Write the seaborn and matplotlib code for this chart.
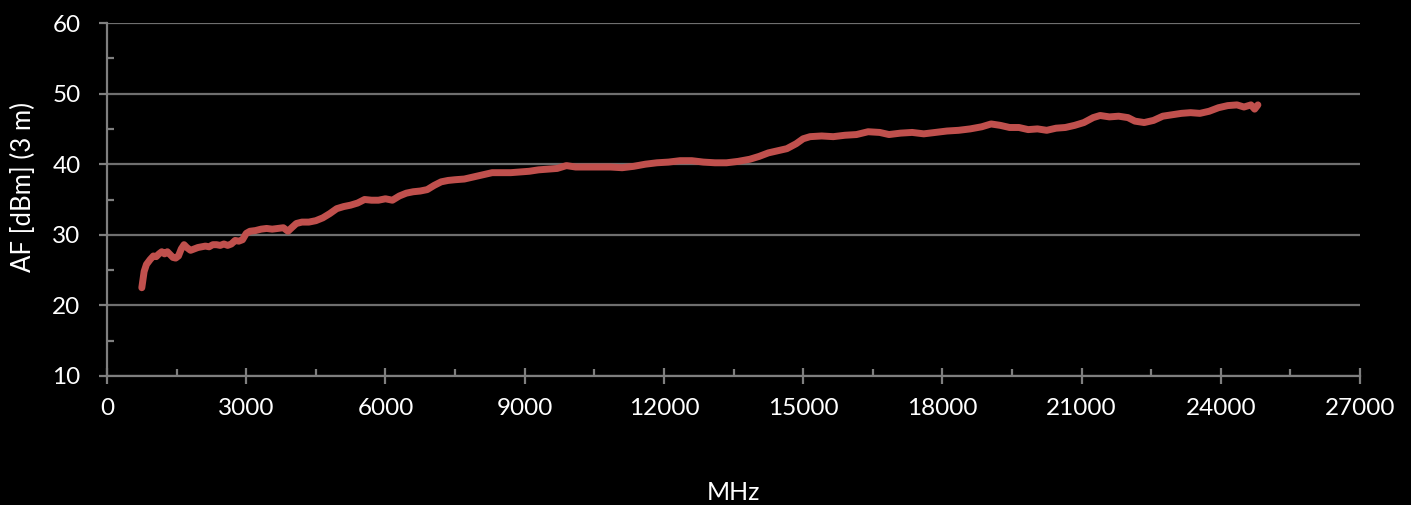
import matplotlib
matplotlib.use("Agg")
import matplotlib.pyplot as plt
import seaborn as sns
import pandas as pd
from matplotlib.ticker import MultipleLocator

freq_mhz = [750, 800, 850, 930, 1000, 1060, 1120, 1180, 1240, 1300, 1360, 1420, 1480, 1540,
            1600, 1660, 1720, 1800, 1880, 1960, 2040, 2120, 2200, 2280, 2360, 2440, 2520,
            2600, 2680, 2760, 2840, 2920, 3000, 3080, 3200, 3320, 3440, 3560, 3680, 3800,
            3900, 3980, 4080, 4200, 4350, 4500, 4650, 4800, 4950, 5100, 5250, 5400, 5550,
            5700, 5850, 6000, 6150, 6300, 6450, 6600, 6750, 6900, 7050, 7200, 7350, 7500,
            7700, 7900, 8100, 8300, 8500, 8700, 8900, 9100, 9300, 9500, 9700, 9900, 10100,
            10350, 10600, 10850, 11100, 11350, 11600, 11850, 12100, 12350, 12600, 12850,
            13100, 13350, 13600, 13850, 14050, 14250, 14450, 14650, 14850, 15000, 15150,
            15400, 15650, 15900, 16150, 16400, 16650, 16850, 17100, 17350, 17600, 17850,
            18100, 18350, 18600, 18850, 19050, 19250, 19450, 19650, 19850, 20050, 20250,
            20450, 20650, 20850, 21050, 21250, 21400, 21600, 21800, 22000, 22150, 22350,
            22550, 22750, 22950, 23150, 23350, 23550, 23750, 23950, 24150, 24350, 24500,
            24650, 24730, 24800]
af_dbm = [22.5, 24.8, 25.8, 26.5, 27.0, 26.9, 27.3, 27.6, 27.3, 27.6, 27.2, 26.8, 26.7, 27.0,
          28.0, 28.6, 28.2, 27.8, 28.0, 28.2, 28.3, 28.4, 28.3, 28.6, 28.6, 28.5, 28.7,
          28.5, 28.7, 29.2, 29.1, 29.3, 30.2, 30.5, 30.6, 30.8, 30.9, 30.8, 30.9, 31.0,
          30.5, 31.0, 31.6, 31.8, 31.8, 32.0, 32.4, 33.0, 33.7, 34.0, 34.2, 34.5, 35.0,
          34.9, 34.9, 35.1, 34.9, 35.5, 35.9, 36.1, 36.2, 36.4, 37.0, 37.5, 37.7, 37.8,
          37.9, 38.2, 38.5, 38.8, 38.8, 38.8, 38.9, 39.0, 39.2, 39.3, 39.4, 39.8, 39.6,
          39.6, 39.6, 39.6, 39.5, 39.7, 40.0, 40.2, 40.3, 40.5, 40.5, 40.3,
          40.2, 40.2, 40.4, 40.7, 41.1, 41.6, 41.9, 42.2, 42.9, 43.6, 43.9,
          44.0, 43.9, 44.1, 44.2, 44.6, 44.5, 44.2, 44.4, 44.5, 44.3, 44.5,
          44.7, 44.8, 45.0, 45.3, 45.7, 45.5, 45.2, 45.2, 44.9, 45.0, 44.8,
          45.1, 45.2, 45.5, 45.9, 46.6, 46.9, 46.7, 46.8, 46.6, 46.1, 45.9,
          46.2, 46.8, 47.0, 47.2, 47.3, 47.2, 47.5, 48.0, 48.3, 48.4, 48.1,
          48.4, 47.8, 48.4]

x_label = "MHz"
y_label = "AF [dBm] (3 m)"

df = pd.DataFrame({"freq": freq_mhz, "af": af_dbm})

sns.set_style("dark", {"axes.facecolor": "black", "figure.facecolor": "black"})
plt.rcParams['font.family'] = ['Lato', 'DejaVu Sans']

fig = plt.figure(figsize=(14.11, 5.05), dpi=100, facecolor="black")
ax = fig.add_axes([107/1411, 1 - 376/505, (1360 - 107)/1411, (376 - 23)/505])
ax.set_facecolor("black")

sns.lineplot(data=df, x="freq", y="af", ax=ax, color="#C0504D", linewidth=5,
             solid_capstyle="round", solid_joinstyle="round")

ax.set_xlim(0, 27000)
ax.set_ylim(10, 60)
ax.xaxis.set_major_locator(MultipleLocator(3000))
ax.xaxis.set_minor_locator(MultipleLocator(1500))
ax.yaxis.set_major_locator(MultipleLocator(10))
ax.yaxis.set_minor_locator(MultipleLocator(5))

gray = "#7f7f7f"
ax.grid(True, axis="y", which="major", color="#6f6f6f", linewidth=1.6)
ax.grid(False, axis="x")
for s in ["top", "right"]:
    ax.spines[s].set_visible(False)
for s in ["left", "bottom"]:
    ax.spines[s].set_visible(True)
    ax.spines[s].set_color(gray)
    ax.spines[s].set_linewidth(1.6)

ax.tick_params(axis="x", which="major", direction="inout", length=11, width=1.6,
               color=gray, labelcolor="white", labelsize=17.5, pad=10)
ax.tick_params(axis="x", which="minor", direction="in", length=5, width=1.6, color=gray)
ax.tick_params(axis="y", which="major", direction="out", length=6, width=1.6,
               color=gray, labelcolor="white", labelsize=17.5, pad=13)
ax.tick_params(axis="y", which="minor", direction="in", length=5, width=1.6, color=gray)
ax.tick_params(bottom=True, left=True, which="both")

ax.set_xlabel("")
ax.set_ylabel("")
fig.text((107 + 1360) / 2 / 1411, 1 - 492 / 505, x_label, color="white", fontsize=18,
         ha="center", va="center")
fig.text(23 / 1411, 1 - 187 / 505, y_label, color="white", fontsize=18.5,
         ha="center", va="center", rotation=90)

fig.savefig("out.png", dpi=100, facecolor="black")
